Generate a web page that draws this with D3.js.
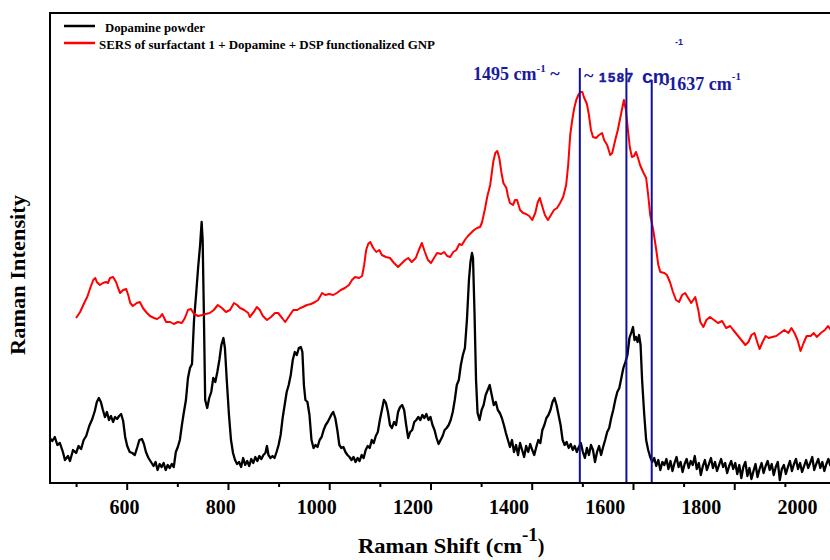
<!DOCTYPE html>
<html><head><meta charset="utf-8">
<script src="https://cdn.jsdelivr.net/npm/d3@7"></script>
<style>
html,body{margin:0;padding:0;background:#fff;overflow:hidden}
svg{display:block}
</style></head>
<body>
<svg id="chart" width="830" height="560"></svg>
<script>
// ---------- DATA ----------
const dopamineShift = [448,453,458,463,468,474,478,484,488,494,500,505,510,515,520,526,532,537,541,545,549,553,557,561,565,569,573,577,581,585,589,593,597,601,606,611,616,621,625,630,634,638,643,648,653,657,661,665,669,673,677,681,685,689,693,697,701,705,709,713,717,721,725,729,733,737,741,745,748,750,752,755,759,763,767,771,775,779,783,787,791,794,798,802,806,810,814,818,822,826,830,834,838,842,846,850,854,858,862,866,870,874,877,880,884,888,892,896,900,904,908,912,916,920,924,928,932,936,940,944,947,950,953,957,961,965,969,973,977,981,985,989,993,997,1001,1005,1008,1012,1016,1020,1024,1028,1032,1036,1040,1044,1048,1052,1056,1060,1064,1068,1072,1076,1080,1084,1088,1092,1096,1100,1104,1108,1112,1116,1120,1124,1128,1132,1136,1140,1144,1148,1152,1156,1160,1164,1168,1172,1176,1180,1184,1188,1192,1196,1200,1204,1208,1212,1216,1220,1224,1228,1232,1236,1240,1244,1248,1252,1256,1260,1264,1268,1272,1276,1279,1282,1284,1287,1290,1293,1297,1301,1305,1309,1313,1317,1321,1325,1329,1333,1337,1341,1345,1349,1353,1357,1361,1365,1369,1373,1377,1381,1385,1389,1393,1397,1401,1405,1409,1413,1417,1421,1425,1429,1433,1437,1441,1445,1449,1453,1457,1461,1465,1469,1473,1477,1481,1485,1489,1493,1497,1501,1505,1509,1513,1517,1521,1525,1529,1533,1537,1541,1545,1549,1553,1557,1561,1565,1569,1573,1577,1581,1585,1589,1593,1597,1600,1603,1606,1609,1612,1615,1618,1622,1626,1630,1634,1638,1642,1646,1650,1654,1658,1662,1666,1670,1674,1678,1682,1686,1690,1694,1698,1702,1706,1710,1714,1718,1722,1726,1730,1734,1738,1742,1746,1750,1754,1758,1762,1766,1770,1774,1778,1782,1786,1790,1794,1798,1802,1806,1810,1814,1818,1822,1826,1830,1834,1838,1842,1846,1850,1854,1858,1862,1866,1870,1874,1878,1882,1886,1890,1894,1898,1902,1906,1910,1914,1918,1922,1926,1930,1934,1938,1942,1946,1950,1954,1958,1962,1966,1970,1974,1978,1982,1986,1990];
const dopamineIntensity = [45,42,46,38,40,31,23,27,22,33,30,37,34,43,47,57,64,72,81,85,81,73,66,71,63,67,61,66,64,67,69,62,46,37,31,30,28,36,43,44,39,31,25,21,17,21,13,19,16,20,13,18,15,19,16,31,36,43,58,71,83,105,115,119,163,188,215,238,261,243,183,83,75,85,91,105,101,111,123,138,145,135,100,68,43,30,23,19,21,16,25,18,22,17,24,20,26,22,27,24,28,30,37,28,25,27,25,31,38,48,65,78,91,98,108,123,131,128,135,136,131,98,83,81,68,43,35,38,36,43,46,53,58,61,65,69,71,65,53,38,35,36,31,28,26,23,26,21,25,22,28,25,33,37,35,43,40,47,51,63,73,83,80,71,58,55,61,58,71,76,78,73,58,45,51,53,61,63,66,63,68,65,69,63,66,58,53,45,39,43,47,53,55,58,63,71,83,98,103,118,128,135,163,203,221,230,225,170,103,70,63,73,78,88,93,98,88,78,81,73,70,65,58,50,43,36,43,31,38,28,40,33,26,37,31,39,33,28,36,43,40,53,58,65,68,73,81,85,78,68,58,43,38,41,35,39,33,37,31,36,40,31,25,35,28,38,33,21,31,37,28,36,43,51,55,65,73,83,91,95,105,115,121,128,145,151,156,143,146,141,148,138,103,70,43,33,26,21,25,17,23,13,21,18,24,14,22,12,20,26,16,21,11,19,24,15,22,18,27,14,20,8,17,23,13,19,25,15,21,12,18,24,16,20,10,17,22,14,20,9,18,5,16,21,7,15,4,12,19,6,14,20,10,17,22,13,19,8,16,21,3,14,18,9,16,22,12,19,24,14,20,11,17,23,15,20,26,13,19,24,15,21,12,19,24,17];

const sersShift = [500,508,516,522,528,534,538,541,547,553,559,563,567,573,579,583,587,593,599,603,607,612,620,626,632,640,646,654,660,666,670,674,678,686,693,701,709,715,721,727,733,741,749,756,764,772,780,788,796,804,812,818,824,832,840,843,851,857,863,869,877,885,893,899,907,913,921,929,937,943,948,956,964,972,978,986,992,1000,1008,1015,1023,1031,1039,1045,1051,1059,1065,1069,1073,1077,1081,1087,1093,1099,1104,1112,1120,1128,1136,1144,1150,1156,1163,1171,1177,1183,1189,1195,1201,1207,1213,1221,1227,1233,1239,1245,1251,1257,1262,1268,1274,1280,1286,1292,1298,1302,1308,1312,1318,1324,1328,1332,1336,1340,1344,1350,1353,1357,1363,1367,1371,1377,1383,1389,1395,1401,1407,1412,1416,1420,1426,1432,1438,1444,1450,1456,1462,1468,1472,1476,1480,1484,1488,1492,1496,1500,1503,1509,1513,1517,1521,1527,1533,1539,1543,1549,1555,1559,1565,1570,1574,1578,1582,1586,1590,1594,1598,1602,1606,1610,1614,1620,1626,1630,1634,1640,1646,1650,1654,1662,1667,1673,1679,1685,1691,1697,1703,1709,1715,1719,1723,1729,1733,1739,1745,1752,1760,1768,1776,1784,1792,1798,1806,1814,1822,1828,1834,1840,1846,1850,1856,1862,1868,1875,1883,1891,1899,1907,1913,1919,1925,1931,1937,1943,1951,1957,1963,1971,1979,1985,1991];
const sersIntensity = [165,171,180,186,195,203,205,201,198,200,201,200,205,206,201,195,190,193,194,188,180,177,180,181,175,170,167,165,164,166,169,165,161,161,159,161,160,165,173,174,169,167,168,169,170,173,178,175,171,173,180,178,175,173,170,166,171,176,173,167,163,166,170,170,165,161,167,173,173,175,176,178,179,181,183,190,188,189,188,190,193,195,198,203,206,205,207,218,233,239,241,235,231,233,228,226,225,220,216,220,223,225,221,225,233,240,231,223,220,225,230,229,231,227,226,231,233,239,238,243,247,250,253,255,256,261,275,286,298,321,330,332,325,311,300,295,287,280,278,283,283,273,270,269,267,263,270,281,285,278,268,263,268,273,275,280,286,298,318,348,363,375,383,388,391,391,386,379,368,353,346,345,348,350,343,338,328,330,343,353,363,373,383,373,353,335,326,327,331,325,318,311,305,288,268,253,233,218,211,210,208,201,191,183,181,188,190,185,180,183,186,173,161,156,163,166,163,160,162,155,157,153,148,143,138,141,148,150,140,134,141,147,145,146,147,150,153,150,155,150,143,132,140,147,147,150,146,150,153,157,153];

const majorTicks = [600, 800, 1000, 1200, 1400, 1600, 1800, 2000];
const minorTicks = [500, 700, 900, 1100, 1300, 1500, 1700, 1900];
const peakMarkers = [1495, 1587, 1637];
const legendLabels = ["Dopamine powder", "SERS of surfactant 1 + Dopamine + DSP functionalized GNP"];
const seriesColors = ["#000000", "#ff0000"];

// ---------- LAYOUT ----------
const svg = d3.select("#chart");
const pLeft = 50, pTop = 13, pBottom = 483, pRight = 836;
const x = d3.scaleLinear().domain([448.5, 2000]).range([pLeft, 835.5]);
const y = d3.scaleLinear().domain([0, 470]).range([pBottom, pTop]);
// tick labels in the reference drift from the tick marks; own scale for them
const xLabel = d3.scaleLinear().domain([600, 2000]).range([124, 797]);
const serif = "'Liberation Serif','Times New Roman',serif";
const sans = "'Liberation Sans',Arial,sans-serif";
const navy = "#1a1a9c";

svg.append("clipPath").attr("id", "clip").append("rect")
  .attr("x", pLeft).attr("y", pTop).attr("width", pRight - pLeft).attr("height", pBottom - pTop);

const plot = svg.append("g").attr("clip-path", "url(#clip)");

const line = d3.line().x(d => x(d[0])).y(d => y(d[1]));
const nD = Math.min(dopamineShift.length, dopamineIntensity.length);
const nS = Math.min(sersShift.length, sersIntensity.length);
const dopData = dopamineShift.slice(0, nD).map((v, i) => [v, dopamineIntensity[i]]);
const sersData = sersShift.slice(0, nS).map((v, i) => [v, sersIntensity[i]]);

plot.append("path").datum(dopData).attr("d", line)
  .attr("fill", "none").attr("stroke", seriesColors[0]).attr("stroke-width", 2.3).attr("stroke-linejoin", "round");
plot.append("path").datum(sersData).attr("d", line)
  .attr("fill", "none").attr("stroke", seriesColors[1]).attr("stroke-width", 2).attr("stroke-linejoin", "round");

// peak marker lines
const markerTop = [68, 68, 80];
plot.selectAll("line.marker").data(peakMarkers).enter().append("line")
  .attr("x1", d => x(d)).attr("x2", d => x(d))
  .attr("y1", (d, i) => markerTop[i]).attr("y2", pBottom)
  .attr("stroke", "#1010a0").attr("stroke-width", 2);

// frame
svg.append("path")
  .attr("d", `M${pRight},${pTop}H${pLeft}V${pBottom}H${pRight}`)
  .attr("fill", "none").attr("stroke", "#000").attr("stroke-width", 2);

// axis ticks
svg.append("g").attr("transform", `translate(0,${pBottom})`)
  .call(d3.axisBottom(x).tickValues(majorTicks).tickSize(7).tickFormat(""))
  .call(g => g.select(".domain").remove())
  .call(g => g.selectAll(".tick line").attr("stroke-width", 2));
svg.append("g").attr("transform", `translate(0,${pBottom})`)
  .call(d3.axisBottom(x).tickValues(minorTicks).tickSize(4).tickFormat(""))
  .call(g => g.select(".domain").remove())
  .call(g => g.selectAll(".tick line").attr("stroke-width", 2));

// tick labels
svg.append("g").attr("transform", `translate(0,${pBottom})`)
  .call(d3.axisBottom(xLabel).tickValues(majorTicks).tickSize(0).tickPadding(0).tickFormat(d3.format("d")))
  .call(g => g.select(".domain").remove())
  .call(g => g.selectAll(".tick text")
    .attr("dy", null).attr("y", 31)
    .attr("font-family", serif).attr("font-weight", "bold").attr("font-size", 20).attr("fill", "#000"));

// axis titles
const xt = svg.append("text").attr("x", 358).attr("y", 553)
  .attr("font-family", serif).attr("font-weight", "bold").attr("font-size", 20);
xt.append("tspan").attr("textLength", 164).attr("lengthAdjust", "spacingAndGlyphs").text("Raman Shift (cm");
xt.append("tspan").attr("dy", -12).attr("font-size", 19).text("-1");
xt.append("tspan").attr("dy", 12).text(")");

svg.append("text")
  .attr("transform", "translate(25,275) rotate(-90)")
  .attr("text-anchor", "middle")
  .attr("font-family", serif).attr("font-weight", "bold").attr("font-size", 21)
  .attr("textLength", 160).attr("lengthAdjust", "spacingAndGlyphs")
  .text("Raman Intensity");

// legend
const legY = [26, 43];
const legTextX = [105, 99];
const legLen = [100, 336];
legendLabels.forEach((t, i) => {
  svg.append("line").attr("x1", 64).attr("x2", 95).attr("y1", legY[i]).attr("y2", legY[i])
    .attr("stroke", seriesColors[i]).attr("stroke-width", 2.5);
  svg.append("text").attr("x", legTextX[i]).attr("y", legY[i] + 6)
    .attr("font-family", serif).attr("font-weight", "bold").attr("font-size", 12)
    .attr("textLength", legLen[i]).attr("lengthAdjust", "spacingAndGlyphs")
    .text(t);
});

// annotations
const a1 = svg.append("text").attr("x", 473).attr("y", 80)
  .attr("font-family", serif).attr("font-weight", "bold").attr("font-size", 18).attr("fill", navy);
a1.append("tspan").text("1495 cm");
a1.append("tspan").attr("dy", -8).attr("font-size", 11).text("-1");
a1.append("tspan").attr("dy", 8).text(" ~");

svg.append("text").attr("x", 584).attr("y", 82)
  .attr("font-family", serif).attr("font-weight", "bold").attr("font-size", 18).attr("fill", navy).text("~");
svg.append("text").attr("x", 599).attr("y", 82)
  .attr("font-family", sans).attr("font-weight", "900").attr("font-size", 13).attr("fill", navy)
  .attr("stroke", navy).attr("stroke-width", 0.5)
  .attr("textLength", 34).attr("lengthAdjust", "spacing").text("1587");
svg.append("text").attr("x", 642).attr("y", 83)
  .attr("font-family", sans).attr("font-weight", "bold").attr("font-size", 19).attr("fill", navy)
  .attr("textLength", 28).attr("lengthAdjust", "spacingAndGlyphs").text("cm");
svg.append("text").attr("x", 675).attr("y", 45)
  .attr("font-family", sans).attr("font-weight", "bold").attr("font-size", 9).attr("fill", navy).text("-1");

const a3 = svg.append("text").attr("x", 659).attr("y", 90)
  .attr("font-family", serif).attr("font-weight", "bold").attr("font-size", 18).attr("fill", navy);
a3.append("tspan").text("~1637 cm");
a3.append("tspan").attr("dy", -10).attr("font-size", 11).text("-1");
</script>
</body></html>
